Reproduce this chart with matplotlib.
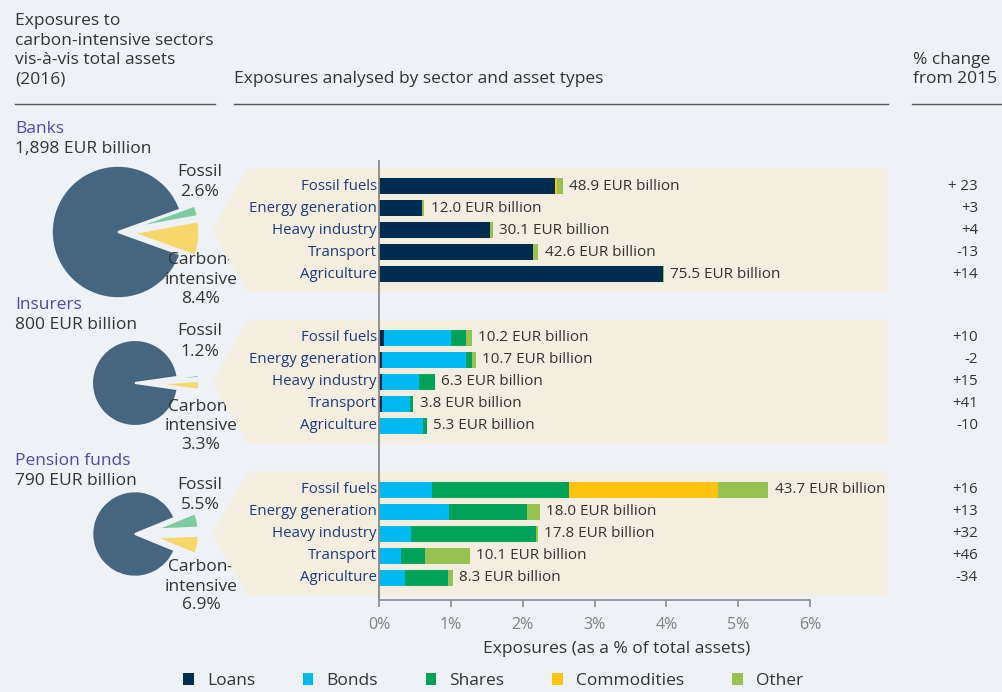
import matplotlib
matplotlib.use('Agg')
import matplotlib.pyplot as plt
from matplotlib.patches import Polygon
from matplotlib.transforms import blended_transform_factory
import numpy as np

plt.rcParams['font.family'] = ['Open Sans', 'DejaVu Sans']

# ---------------- data ----------------
groups = ['Banks', 'Insurers', 'Pension funds']
group_totals = ['1,898 EUR billion', '800 EUR billion', '790 EUR billion']
group_assets = [1898, 800, 790]
fossil_share = [2.6, 1.2, 5.5]          # % of total assets
carbon_share = [8.4, 3.3, 6.9]          # % of total assets
sectors = ['Fossil fuels', 'Energy generation', 'Heavy industry', 'Transport', 'Agriculture']
asset_types = ['Loans', 'Bonds', 'Shares', 'Commodities', 'Other']

# exposures as % of total assets; one list per group (Banks, Insurers, Pension funds)
loans = [[2.45, 0.60, 1.55, 2.14, 3.95],
         [0.07, 0.04, 0.04, 0.04, 0.00],
         [0.00, 0.00, 0.00, 0.00, 0.00]]
bonds = [[0.00, 0.00, 0.00, 0.00, 0.00],
         [0.93, 1.17, 0.52, 0.39, 0.61],
         [0.74, 0.975, 0.44, 0.30, 0.36]]
shares = [[0.00, 0.00, 0.00, 0.00, 0.00],
          [0.21, 0.08, 0.22, 0.04, 0.06],
          [1.91, 1.08, 1.74, 0.34, 0.60]]
commodities = [[0.03, 0.00, 0.00, 0.00, 0.00],
               [0.00, 0.00, 0.00, 0.00, 0.00],
               [2.07, 0.00, 0.00, 0.00, 0.00]]
other = [[0.08, 0.03, 0.04, 0.08, 0.02],
         [0.08, 0.06, 0.00, 0.01, 0.00],
         [0.70, 0.18, 0.03, 0.62, 0.07]]
exposure_bn = [[48.9, 12.0, 30.1, 42.6, 75.5],
               [10.2, 10.7, 6.3, 3.8, 5.3],
               [43.7, 18.0, 17.8, 10.1, 8.3]]
pct_change = [['+ 23', '+3', '+4', '-13', '+14'],
              ['+10', '-2', '+15', '+41', '-10'],
              ['+16', '+13', '+32', '+46', '-34']]
x_ticks = [0, 1, 2, 3, 4, 5, 6]
x_ticklabels = ['0%', '1%', '2%', '3%', '4%', '5%', '6%']

# ---------------- style ----------------
W, H = 1002, 692
BG = '#eef2f6'
BEIGE = '#f3eee0'
asset_colors = ['#002c50', '#00b9f0', '#00a158', '#fcc410', '#97c150']
pie_main, pie_fossil, pie_carbon = '#46667f', '#7ecba1', '#f6d76b'
TXT = '#333333'
NAVY = '#1f3a78'
TITLE = '#4b4ba8'
FS_BIG = 12.5

fig = plt.figure(figsize=(W / 100, H / 100), dpi=100)
fig.patch.set_facecolor(BG)

# overlay axes in pixel coordinates (y measured from top)
axp = fig.add_axes([0, 0, 1, 1], zorder=0)
axp.set_facecolor('none')

def Y(py):
    return H - py

def T(x, y, s, **kw):
    kw.setdefault('color', TXT)
    kw.setdefault('fontsize', FS_BIG)
    kw.setdefault('va', 'center')
    axp.text(x, Y(y), s, **kw)

# headers
for s, yy in zip(['Exposures to', 'carbon-intensive sectors', 'vis-à-vis total assets', '(2016)'],
                 [21, 41, 60, 79]):
    T(15, yy, s)
T(234, 79, 'Exposures analysed by sector and asset types')
T(913, 60, '% change')
T(913, 79, 'from 2015')
for x0, x1 in [(15, 215), (234, 888), (912, 1002)]:
    axp.plot([x0, x1], [Y(104), Y(104)], color='#555555', lw=1)

# pies
pie_cx = [118, 135, 135]
pie_cy = [232, 383, 534]
explode_px = [15, 21, 21]
title_y = [128, 304, 460]
fossil_lab_y = [(172, 192), (331, 352), (485, 505)]
carbon_lab_y = [(260, 280, 299), (407, 426, 445), (567, 587, 605)]
for g in range(3):
    r = 43 * np.sqrt(group_assets[g] / 800)
    vals = [carbon_share[g], fossil_share[g], 100 - carbon_share[g] - fossil_share[g]]
    start = -(carbon_share[g] + fossil_share[g]) / 2 * 3.6
    axp.pie(vals, colors=[pie_carbon, pie_fossil, pie_main], startangle=start,
            counterclock=True, center=(pie_cx[g], Y(pie_cy[g])), radius=r,
            explode=[explode_px[g], explode_px[g], 0],
            wedgeprops=dict(edgecolor=BG, linewidth=1.5))
    T(15, title_y[g] + 1, groups[g], color=TITLE)
    T(15, title_y[g] + 21, group_totals[g])
    T(200, fossil_lab_y[g][0], 'Fossil', ha='center')
    T(200, fossil_lab_y[g][1], f'{fossil_share[g]:.1f}%', ha='center')
    for s, yy in zip(['Carbon-', 'intensive', f'{carbon_share[g]:.1f}%'], carbon_lab_y[g]):
        T(201, yy, s, ha='center')

axp.set_xlim(0, W)
axp.set_ylim(0, H)
axp.set_aspect('auto')
axp.axis('off')

# ---------------- bar axes ----------------
ax = fig.add_axes([212 / W, (H - 600) / H, (888 - 212) / W, (600 - 160) / H], zorder=1)
ax.set_facecolor('none')
ppu = 431 / 6.0
ax.set_xlim((212 - 379) / ppu, (888 - 379) / ppu)
row_px, row0_px = 22.0, 186.0
ax.set_ylim((600 - row0_px) / row_px, (160 - row0_px) / row_px)
group_gap = 6.9
xl, xr = ax.get_xlim()
band_left = (248 - 379) / ppu

series = [loans, bonds, shares, commodities, other]
trans_fig_x = blended_transform_factory(fig.transFigure, ax.transData)
handles = []
for g in range(3):
    ys = np.arange(5) + g * group_gap
    top, bot = ys[0] - 0.82, ys[-1] + 0.82
    ax.add_patch(Polygon([(band_left, top), (xr, top), (xr, bot), (band_left, bot),
                          (xl, (top + bot) / 2)], closed=True, facecolor=BEIGE,
                         edgecolor='none', zorder=0, clip_on=False))
    left = np.zeros(5)
    for k, (name, data) in enumerate(zip(asset_types, series)):
        v = np.array(data[g])
        b = ax.barh(ys, v, left=left, height=0.73, color=asset_colors[k], zorder=2,
                    label=name)
        if g == 0:
            handles.append(b)
        left = left + v
    for i in range(5):
        ax.text(-0.03, ys[i], sectors[i], ha='right', va='center', color=NAVY, fontsize=10.8)
        ax.annotate(f'{exposure_bn[g][i]:.1f} EUR billion', xy=(left[i], ys[i]),
                    xytext=(4.5, 0), textcoords='offset points', ha='left', va='center',
                    color=TXT, fontsize=11)
        ax.text(978 / W, ys[i], pct_change[g][i], transform=trans_fig_x, ha='right',
                va='center', color=TXT, fontsize=10.8)

ax.axvline(0, color='#8a8a8a', lw=1.3, zorder=3)
for s in ['top', 'right', 'left']:
    ax.spines[s].set_visible(False)
ax.spines['bottom'].set_color('#8a8a8a')
ax.spines['bottom'].set_linewidth(1.2)
ax.spines['bottom'].set_bounds(0, 6)
ax.set_xticks(x_ticks)
ax.set_xticklabels(x_ticklabels)
ax.set_yticks([])
ax.tick_params(axis='x', color='#8a8a8a', labelcolor='#808080', length=5, width=1.2,
               pad=7.5, labelsize=11.5)
ax.set_xlabel('Exposures (as a % of total assets)', fontsize=FS_BIG, color=TXT)
ax.xaxis.label.set_va('center')
ax.xaxis.set_label_coords((617 - 212) / (888 - 212), -(649 - 600) / (600 - 160))

fig.legend(handles, asset_types, loc='center left', bbox_to_anchor=(183 / W, 1 - 681 / H),
           ncol=5, frameon=False, fontsize=FS_BIG, handlelength=0.62, handleheight=0.62,
           handletextpad=0.75, columnspacing=2.75, borderpad=0, borderaxespad=0,
           labelcolor=TXT)

fig.savefig('out.png', dpi=100, facecolor=BG)
